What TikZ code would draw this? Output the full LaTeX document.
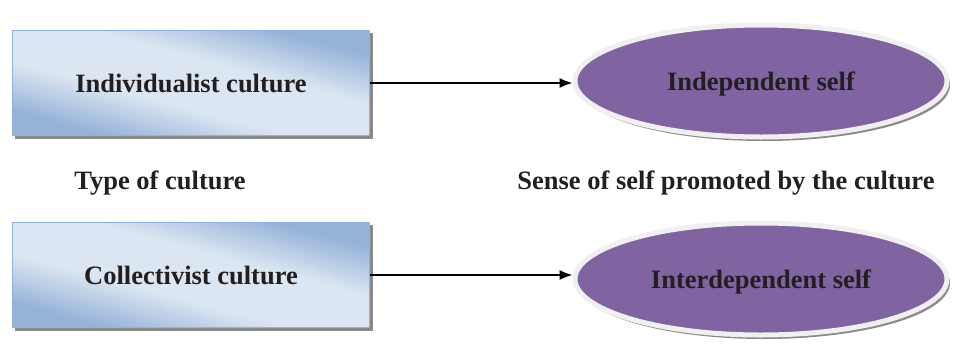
\documentclass[tikz,border=0pt]{standalone}
\usepackage{fontspec}
\setmainfont{Liberation Serif}
\usetikzlibrary{shadows,arrows.meta,shapes.geometric,backgrounds}
\definecolor{boxdark}{HTML}{95B3D7}
\definecolor{boxlight}{HTML}{DCE6F2}
\definecolor{boxline}{HTML}{8EB4E3}
\definecolor{ellfill}{HTML}{8064A2}
\definecolor{ellline}{HTML}{F0F0F0}
\definecolor{txt}{HTML}{231F20}
\definecolor{shadowgray}{HTML}{8A8A8A}
\pgfdeclarehorizontalshading{boxshade}{100bp}{
  color(0bp)=(boxdark); color(27bp)=(boxdark); color(42bp)=(boxlight); color(58bp)=(boxlight); color(73bp)=(boxdark); color(100bp)=(boxdark)}
\tikzset{
  culturebox/.style={rectangle, draw=boxline, line width=1pt, minimum width=357pt, minimum height=105pt,
    shading=boxshade, shading angle=75,
    font=\fontsize{26.5}{30}\selectfont\bfseries, text=txt},
  boxshadow/.style={fill=shadowgray},
  selfell/.style={ellipse, draw=ellline, line width=5pt, fill=ellfill, minimum width=372pt, minimum height=112pt,
    inner sep=0pt, text depth=0pt,
    drop shadow={shadow xshift=3pt, shadow yshift=-4pt, fill=shadowgray, opacity=1},
    font=\fontsize{26.5}{30}\selectfont\bfseries, text=txt},
  lbl/.style={font=\fontsize{26.5}{30}\selectfont\bfseries, text=txt},
  conn/.style={-{Latex[length=13pt,width=10pt]}, line width=1.5pt, black}
}
\begin{document}
\begin{tikzpicture}[x=1pt,y=-1pt]
\useasboundingbox (0,0) rectangle (955,354);
\node[culturebox] (ind) at (191,83) {Individualist culture};
\node[culturebox] (col) at (191,275) {Collectivist culture};
\begin{scope}[on background layer]
  \fill[boxshadow] ([xshift=3pt,yshift=-3pt]ind.south west) rectangle ([xshift=3pt,yshift=-3pt]ind.north east);
  \fill[boxshadow] ([xshift=3pt,yshift=-3pt]col.south west) rectangle ([xshift=3pt,yshift=-3pt]col.north east);
\end{scope}
\node[selfell] (indself) at (761,81) {Independent self};
\node[selfell] (interself) at (761,279) {Interdependent self};
\node[lbl] (type) at (160,183) {Type of culture};
\node[lbl] (sense) at (726,183) {Sense of self promoted by the culture};
\draw[conn] (ind.east) -- (ind.east -| indself.west);
\draw[conn] (col.east) -- (col.east -| interself.west);
\end{tikzpicture}
\end{document}
